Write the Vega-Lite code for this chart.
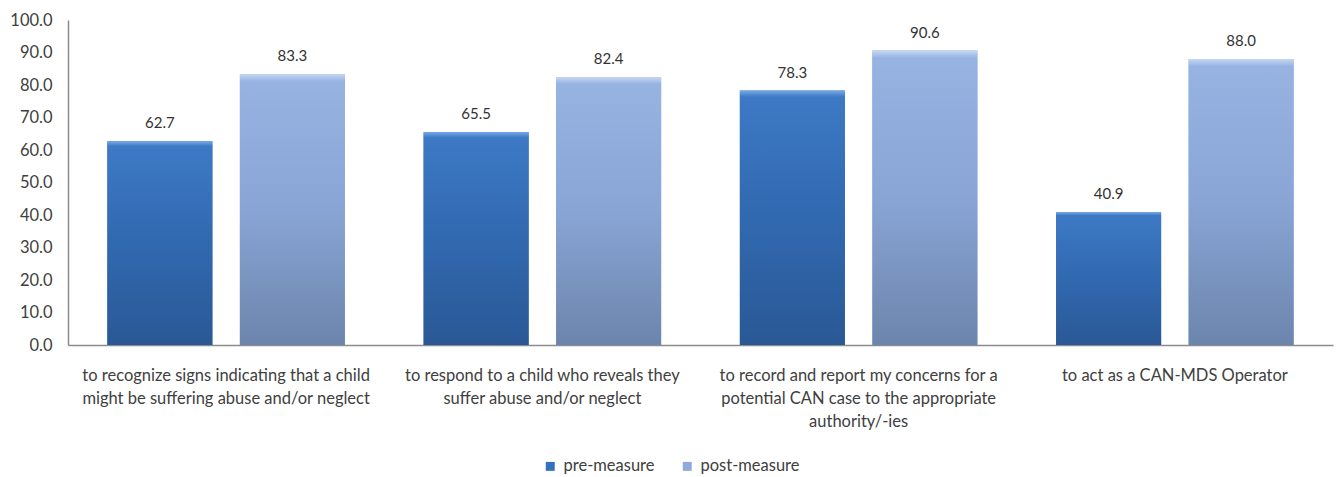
{
  "$schema": "https://vega.github.io/schema/vega-lite/v6.json",
  "width": 1265,
  "height": 325,
  "autosize": {"type": "none"},
  "padding": {"left": 68, "top": 20, "right": 7, "bottom": 132},
  "background": "white",
  "config": {"view": {"stroke": null}, "font": "Lato"},
  "data": {
    "values": [
      {"category": "to recognize signs indicating that a child|might be suffering abuse and/or neglect", "series": "pre-measure", "value": 62.7},
      {"category": "to recognize signs indicating that a child|might be suffering abuse and/or neglect", "series": "post-measure", "value": 83.3},
      {"category": "to respond to a child who reveals they|suffer abuse and/or neglect", "series": "pre-measure", "value": 65.5},
      {"category": "to respond to a child who reveals they|suffer abuse and/or neglect", "series": "post-measure", "value": 82.4},
      {"category": "to record and report my concerns for a|potential CAN case to the appropriate|authority/-ies", "series": "pre-measure", "value": 78.3},
      {"category": "to record and report my concerns for a|potential CAN case to the appropriate|authority/-ies", "series": "post-measure", "value": 90.6},
      {"category": "to act as a CAN-MDS Operator", "series": "pre-measure", "value": 40.9},
      {"category": "to act as a CAN-MDS Operator", "series": "post-measure", "value": 88.0}
    ]
  },
  "encoding": {
    "x": {
      "field": "category",
      "type": "nominal",
      "sort": null,
      "scale": {"paddingInner": 0, "paddingOuter": 0},
      "axis": {
        "title": null,
        "labelAngle": 0,
        "labelExpr": "split(datum.value, '|')",
        "labelLimit": 0,
        "labelFontSize": 16.5,
        "labelColor": "#404040",
        "labelLineHeight": 23,
        "labelPadding": 22,
        "labelBaseline": "top",
        "ticks": false,
        "domainColor": "#8c8c8c",
        "domainWidth": 1.5
      }
    },
    "xOffset": {
      "field": "series",
      "type": "nominal",
      "sort": ["pre-measure", "post-measure"],
      "scale": {"paddingInner": 0.2075, "paddingOuter": 0.297}
    },
    "y": {
      "field": "value",
      "type": "quantitative",
      "scale": {"domain": [0, 100], "nice": false},
      "axis": {
        "title": null,
        "values": [0, 10, 20, 30, 40, 50, 60, 70, 80, 90, 100],
        "format": ".1f",
        "grid": false,
        "ticks": false,
        "labelFontSize": 16.5,
        "labelColor": "#404040",
        "labelPadding": 16,
        "domainColor": "#8c8c8c",
        "domainWidth": 1.5
      }
    }
  },
  "layer": [
    {
      "mark": {"type": "bar"},
      "encoding": {
        "color": {
          "field": "series",
          "type": "nominal",
          "scale": {"domain": ["pre-measure", "post-measure"], "range": ["#3470BB", "#8EAADB"]},
          "legend": {
            "title": null,
            "orient": "none",
            "direction": "horizontal",
            "legendX": 474,
            "legendY": 438,
            "symbolType": "square",
            "symbolSize": 80,
            "symbolStrokeWidth": 0,
            "labelFontSize": 16.5,
            "labelColor": "#404040",
            "columnPadding": 24,
            "labelOffset": 5
          }
        }
      }
    },
    {
      "mark": {"type": "bar"},
      "encoding": {
        "color": {
          "condition": {
            "test": "datum.series === 'pre-measure'",
            "value": {
              "gradient": "linear", "x1": 0, "y1": 0, "x2": 0, "y2": 1,
              "stops": [
                {"offset": 0, "color": "#79aae6"},
                {"offset": 0.025, "color": "#3d79c5"},
                {"offset": 0.5, "color": "#3169b0"},
                {"offset": 1, "color": "#2a5895"}
              ]
            }
          },
          "value": {
            "gradient": "linear", "x1": 0, "y1": 0, "x2": 0, "y2": 1,
            "stops": [
              {"offset": 0, "color": "#c6d8f2"},
              {"offset": 0.025, "color": "#96b3e2"},
              {"offset": 0.5, "color": "#89a5d5"},
              {"offset": 1, "color": "#6c85ad"}
            ]
          }
        }
      }
    },
    {
      "mark": {"type": "text", "baseline": "alphabetic", "dy": -13, "fontSize": 15, "color": "#333333"},
      "encoding": {
        "text": {"field": "value", "type": "quantitative", "format": ".1f"}
      }
    }
  ]
}
